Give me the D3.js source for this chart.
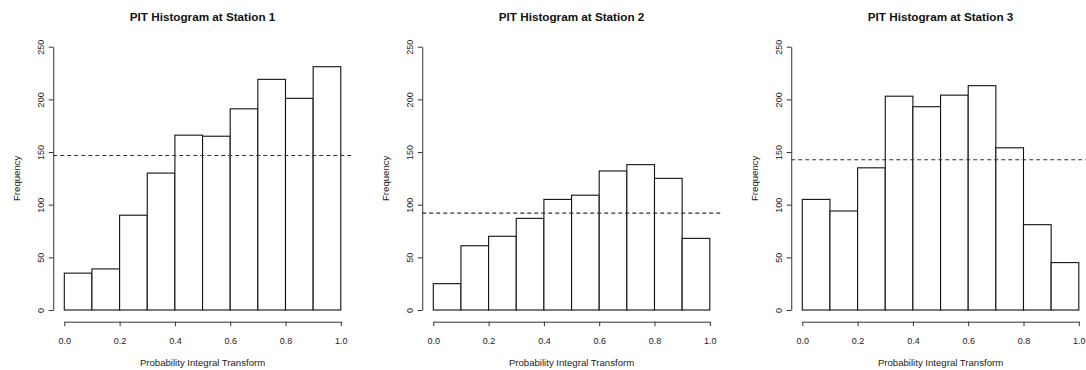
<!DOCTYPE html>
<html>
<head>
<meta charset="utf-8">
<script src="https://cdn.jsdelivr.net/npm/d3@7"></script>
<style>
  html, body { margin: 0; padding: 0; background: #fff; }
  svg { display: block; }
  text { font-family: "Liberation Sans", Arial, Helvetica, sans-serif; fill: #222; }
</style>
</head>
<body>
<svg id="chart" width="1086" height="370"></svg>
<script>
// PIT bin edges (10 equal bins on [0, 1])
const binEdges = [0, 0.1, 0.2, 0.3, 0.4, 0.5, 0.6, 0.7, 0.8, 0.9, 1.0];

// Counts per bin at each station
const station1 = [35, 39, 90, 130, 166, 165, 191, 219, 201, 231];
const station2 = [25, 61, 70, 87, 105, 109, 132, 138, 125, 68];
const station3 = [105, 94, 135, 203, 193, 204, 213, 154, 81, 45];

const stationNames = ["Station 1", "Station 2", "Station 3"];
const xTicks = [0, 0.2, 0.4, 0.6, 0.8, 1.0];
const yTicks = [0, 50, 100, 150, 200, 250];

const panels = [station1, station2, station3];

const svg = d3.select("#chart");

// Geometry of each panel
const panelStep = 369;      // horizontal distance between panels
const firstX0 = 64.3;       // pixel position of PIT = 0 in the first panel
const plotW = 276.5;        // pixels from PIT = 0 to PIT = 1
const yBase = 310;          // pixel of frequency 0
const yTopTick = 46.7;      // pixel of frequency 250
const xAxisY = 321.7;       // vertical position of the bottom axis

panels.forEach((counts, i) => {
  const x0 = firstX0 + i * panelStep;
  const x = d3.scaleLinear().domain([0, 1]).range([x0, x0 + plotW]);
  const y = d3.scaleLinear().domain([0, 250]).range([yBase, yTopTick]);

  const g = svg.append("g");

  // Histogram bars
  const bins = counts.map((c, k) => ({ x0: binEdges[k], x1: binEdges[k + 1], count: c }));
  g.selectAll("rect.bar")
    .data(bins)
    .join("rect")
    .attr("class", "bar")
    .attr("x", d => x(d.x0))
    .attr("y", d => y(d.count))
    .attr("width", d => x(d.x1) - x(d.x0))
    .attr("height", d => y(0) - y(d.count))
    .attr("fill", "#fff")
    .attr("stroke", "#111")
    .attr("stroke-width", 1.1);

  // Uniform reference level: expected count per bin
  const expected = d3.mean(counts);
  g.append("line")
    .attr("x1", x(-0.04))
    .attr("x2", x(1.04))
    .attr("y1", y(expected))
    .attr("y2", y(expected))
    .attr("stroke", "#333")
    .attr("stroke-width", 1.1)
    .attr("stroke-dasharray", "4,3");

  // Left axis
  const yAxisG = g.append("g")
    .attr("transform", `translate(${x(-0.04)},0)`)
    .call(d3.axisLeft(y).tickValues(yTicks).tickSize(4.5).tickSizeOuter(0).tickFormat(d3.format("d")));
  yAxisG.select(".domain").attr("stroke", "#333");
  yAxisG.selectAll(".tick line").attr("stroke", "#333");
  yAxisG.selectAll(".tick text")
    .attr("x", 0)
    .attr("y", -12.5)
    .attr("dy", null)
    .attr("transform", "rotate(-90)")
    .attr("text-anchor", "middle")
    .attr("dominant-baseline", "central")
    .style("font-size", "9px")
    .style("fill", "#222");
  yAxisG.attr("font-family", null).attr("font-size", null);

  // Bottom axis
  const xAxisG = g.append("g")
    .attr("transform", `translate(0,${xAxisY})`)
    .call(d3.axisBottom(x).tickValues(xTicks).tickSize(4.5).tickSizeOuter(0).tickFormat(d3.format(".1f")));
  xAxisG.select(".domain").attr("stroke", "#333");
  xAxisG.selectAll(".tick line").attr("stroke", "#333");
  xAxisG.selectAll(".tick text")
    .attr("y", 19)
    .attr("dy", null)
    .attr("dominant-baseline", "central")
    .style("font-size", "9px")
    .style("fill", "#222");
  xAxisG.attr("font-family", null).attr("font-size", null);

  // Title
  const cx = (x(-0.04) + x(1.04)) / 2;
  g.append("text")
    .attr("x", cx)
    .attr("y", 16)
    .attr("text-anchor", "middle")
    .attr("dominant-baseline", "central")
    .style("font-size", "11.7px")
    .style("font-weight", "bold")
    .style("fill", "#111")
    .text("PIT Histogram at " + stationNames[i]);

  // Axis titles
  g.append("text")
    .attr("x", cx)
    .attr("y", 362)
    .attr("text-anchor", "middle")
    .attr("dominant-baseline", "central")
    .style("font-size", "9.6px")
    .text("Probability Integral Transform");

  g.append("text")
    .attr("transform", `translate(${x(-0.04) - 37},${(y(0) + y(250)) / 2}) rotate(-90)`)
    .attr("text-anchor", "middle")
    .attr("dominant-baseline", "central")
    .style("font-size", "9.6px")
    .text("Frequency");
});
</script>
</body>
</html>
